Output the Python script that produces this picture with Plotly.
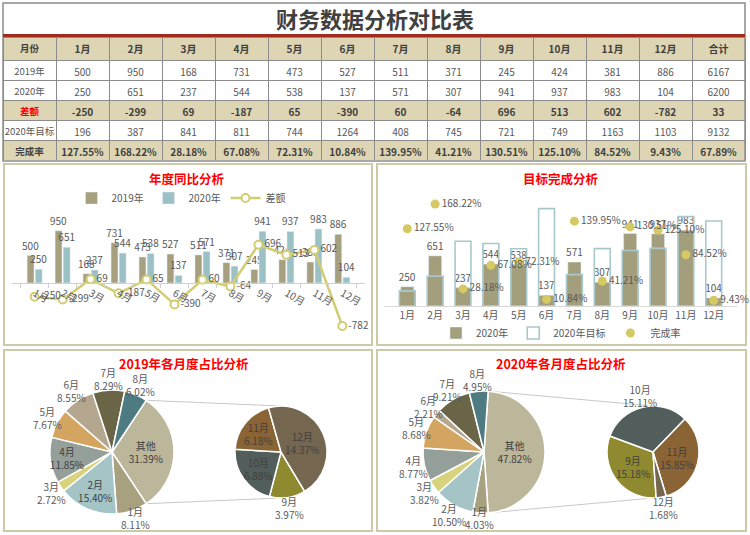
import math
import plotly.graph_objects as go

W, H = 750, 535

# ---------------- data ----------------
months = ['1月', '2月', '3月', '4月', '5月', '6月', '7月', '8月', '9月', '10月', '11月', '12月']
sales_2019 = [500, 950, 168, 731, 473, 527, 511, 371, 245, 424, 381, 886]
sales_2020 = [250, 651, 237, 544, 538, 137, 571, 307, 941, 937, 983, 104]
diff_values = [-250, -299, 69, -187, 65, -390, 60, -64, 696, 513, 602, -782]
target_2020 = [196, 387, 841, 811, 744, 1264, 408, 745, 721, 749, 1163, 1103]
rate_2020 = [127.55, 168.22, 28.18, 67.08, 72.31, 10.84, 139.95, 41.21, 130.51, 125.10, 84.52, 9.43]
total_2019 = 6167
total_2020 = 6200
total_diff = 33
total_target = 9132
total_rate = 67.89
row_names = ['2019年', '2020年', '差额', '2020年目标', '完成率']

# ---------------- style ----------------
FONT = 'Noto Sans CJK SC'
GREY = '#595959'
DARK = '#404040'
TAN = '#DDD5B3'
PANEL = '#CEC9A7'
C2019 = '#A6A07E'
C2020 = '#9CC1C5'
CLINE = '#D2CD72'
CBAR = '#A39E7C'
CTGT = '#A9C8CC'
CDOT = '#D4C962'
SLICE_COLORS = {'其他': '#BCB79B', '1月': '#A7A17F', '2月': '#A4C4C6', '3月': '#D7D27C',
                '4月': '#959F99', '5月': '#D4A561', '6月': '#B5A690', '7月': '#6B6548',
                '8月': '#4E7B81', '9月': '#8F8A2F', '10月': '#525E5B', '11月': '#8A6434',
                '12月': '#75664F'}


def fx(px):
    return px / W


def fy(py):
    return 1 - py / H


fig = go.Figure()
annotations = []

# ---------------- table (three stacked go.Table blocks so bold rows keep a 20px height) ----------------
header_vals = ['月份'] + months + ['合计']
row_2019 = [row_names[0]] + [str(v) for v in sales_2019] + [str(total_2019)]
row_2020 = [row_names[1]] + [str(v) for v in sales_2020] + [str(total_2020)]
row_diff = [row_names[2]] + [str(v) for v in diff_values] + [str(total_diff)]
row_tgt = [row_names[3]] + [str(v) for v in target_2020] + [str(total_target)]
row_rate = [row_names[4]] + [f'{v:.2f}%' for v in rate_2020] + [f'{total_rate:.2f}%']

LINE = dict(color='#8C8C8C', width=1)
col_sizes = [9.5] + [10] * 13


def add_table(y_top, y_bot, head_vals, head_h, head_colors, body_rows):
    body_cols = [list(c) for c in zip(*body_rows)] if body_rows else [[] for _ in head_vals]
    fig.add_trace(go.Table(
        domain=dict(x=[fx(3), fx(745)], y=[fy(y_bot), fy(y_top)]),
        columnwidth=[1] * 14,
        header=dict(values=head_vals, height=head_h, fill_color=TAN, line=LINE, align='center',
                    font=dict(family=FONT, size=col_sizes, color=head_colors, weight='bold')),
        cells=dict(values=body_cols, height=20, fill_color='white', line=LINE, align='center',
                   font=dict(family=FONT, size=col_sizes, color=GREY)),
    ))


add_table(37, 100.5, header_vals, 23, DARK, [row_2019, row_2020])
add_table(100, 140.5, row_diff, 20, ['#FF0000'] + [DARK] * 13, [row_tgt])
add_table(140, 160.5, row_rate, 20, DARK, [])

# ---------------- chart 1: 年度同比分析 ----------------
y1_range = [-1000, 1250]
y1_dom = [fy(338), fy(214.25)]
zero1 = y1_dom[0] + (0 - y1_range[0]) / (y1_range[1] - y1_range[0]) * (y1_dom[1] - y1_dom[0])

fig.add_trace(go.Bar(x=months, y=sales_2019, name='2019年', marker_color=C2019,
                     text=sales_2019, textposition='outside', constraintext='none',
                     textfont=dict(size=10, color=GREY), cliponaxis=False,
                     xaxis='x', yaxis='y', legend='legend', hoverinfo='skip'))
fig.add_trace(go.Bar(x=months, y=sales_2020, name='2020年', marker_color=C2020,
                     text=sales_2020, textposition='outside', constraintext='none',
                     textfont=dict(size=10, color=GREY), cliponaxis=False,
                     xaxis='x', yaxis='y', legend='legend', hoverinfo='skip'))
fig.add_trace(go.Scatter(x=months, y=diff_values, name='差额', mode='lines+markers+text',
                         line=dict(color=CLINE, width=2.5),
                         marker=dict(symbol='circle', size=8, color='white',
                                     line=dict(color=CLINE, width=2)),
                         text=diff_values, textposition='middle right',
                         textfont=dict(size=10, color=GREY), cliponaxis=False,
                         xaxis='x', yaxis='y', legend='legend', hoverinfo='skip'))

# ---------------- chart 2: 目标完成分析 ----------------
y2_range = [0, 1400]
px_per_unit = 0.077
px_per_rate = 60.6
y2_top_px = 306 - y2_range[1] * px_per_unit
y2_dom = [fy(306), fy(y2_top_px)]
y3_range = [0, y2_range[1] * px_per_unit / px_per_rate]

fig.add_trace(go.Bar(x=months, y=sales_2020, name='2020年', marker_color=CBAR,
                     width=0.47, offset=-0.235,
                     text=sales_2020, textposition='outside', constraintext='none',
                     textfont=dict(size=10, color=GREY), cliponaxis=False,
                     xaxis='x2', yaxis='y2', legend='legend2', hoverinfo='skip'))
fig.add_trace(go.Bar(x=months, y=[min(a, b) for a, b in zip(sales_2020, target_2020)],
                     marker_color=CBAR, width=0.57, offset=-0.285, showlegend=False,
                     xaxis='x2', yaxis='y2', hoverinfo='skip'))
fig.add_trace(go.Bar(x=months, y=target_2020, name='2020年目标', width=0.57, offset=-0.285,
                     marker=dict(color='rgba(255,255,255,0)', line=dict(color=CTGT, width=1.6)),
                     xaxis='x2', yaxis='y2', legend='legend2', hoverinfo='skip'))
fig.add_trace(go.Scatter(x=months, y=[r / 100 for r in rate_2020], name='完成率',
                         mode='markers+text', marker=dict(size=9, color=CDOT),
                         text=[f'{r:.2f}%' for r in rate_2020], textposition='middle right',
                         textfont=dict(size=10, color=GREY), cliponaxis=False,
                         xaxis='x2', yaxis='y3', legend='legend2', hoverinfo='skip'))


# ---------------- pies ----------------
def pie_trace(labels, vals, total, center, rot, positions):
    cx, cy, r = center
    share_txt = [f'{v / total * 100:.2f}%' for v in vals]
    tp = ['inside' if p == 'inside' else 'none' for p in positions]
    fig.add_trace(go.Pie(
        labels=labels, values=vals, sort=False, direction='clockwise', rotation=rot,
        domain=dict(x=[fx(cx - r), fx(cx + r)], y=[fy(cy + r), fy(cy - r)]),
        marker=dict(colors=[SLICE_COLORS[l] for l in labels], line=dict(color='white', width=1.5)),
        text=share_txt, texttemplate='%{label}<br>%{text}', textposition=tp,
        insidetextorientation='horizontal',
        insidetextfont=dict(size=10, color=DARK),
        showlegend=False, hoverinfo='skip'))
    # outside labels: at the slice mid-angle just beyond the rim, kept inside the panel
    vsum = sum(vals)
    acc = 0
    for lab, v, txt, p in zip(labels, vals, share_txt, positions):
        mid = rot + (acc + v / 2) / vsum * 360
        acc += v
        if p != 'outside':
            continue
        a = math.radians(mid)
        R = r + 11
        px_ = cx + R * math.sin(a)
        py_ = min(cy - R * math.cos(a), 518)
        annotations.append(dict(text=f'{lab}<br>{txt}', x=fx(px_), y=fy(py_), xref='paper', yref='paper',
                                xanchor='center', yanchor='middle', showarrow=False, align='center',
                                font=dict(size=10, color=GREY, family=FONT)))


def pie_pair(values, total, P, S, sec_rot, main_pos, sec_pos):
    other = sum(values[8:])
    share = other / total
    rot = 90 - 180 * share
    pie_trace(['其他'] + months[:8], [other] + values[:8], total, P, rot, main_pos)
    pie_trace(months[8:], values[8:], total, S, sec_rot, sec_pos)
    return rot


P19 = (112, 452, 62)
S19 = (281, 452, 46)
P20 = (484, 452, 61)
S20 = (653, 452, 46)

rot19 = pie_pair(sales_2019, total_2019, P19, S19, 149,
                 ['inside', 'outside', 'inside', 'outside', 'inside', 'outside', 'outside', 'outside', 'outside'],
                 ['outside', 'inside', 'inside', 'inside'])
rot20 = pie_pair(sales_2020, total_2020, P20, S20, 176,
                 ['inside'] + ['outside'] * 8,
                 ['inside', 'outside', 'inside', 'outside'])


def pie_pt(c, ang):
    cx, cy, r = c
    a = math.radians(ang)
    return cx + r * math.sin(a), cy - r * math.cos(a)


shapes = []
for (x0, y0, x1, y1) in [(4, 164, 372, 345), (377, 164, 746, 345), (4, 350, 372, 531), (377, 350, 746, 531)]:
    shapes.append(dict(type='rect', xref='paper', yref='paper', x0=fx(x0), x1=fx(x1), y0=fy(y1), y1=fy(y0),
                       line=dict(color=PANEL, width=2), fillcolor='white', layer='below'))
shapes.append(dict(type='rect', xref='paper', yref='paper', x0=fx(3), x1=fx(745), y0=fy(161), y1=fy(3),
                   line=dict(color='#8C8C8C', width=1.5), layer='above'))
shapes.append(dict(type='line', xref='paper', yref='paper', x0=fx(3), x1=fx(745), y0=fy(35.5), y1=fy(35.5),
                   line=dict(color='#9E2B1E', width=3)))
for P, S, rot in [(P19, S19, rot19), (P20, S20, rot20)]:
    a = pie_pt(P, rot)
    b = pie_pt(P, 180 - rot)
    t = (S[0], S[1] - S[2])
    btm = (S[0], S[1] + S[2])
    for p, q in [(a, t), (b, btm)]:
        shapes.append(dict(type='line', xref='paper', yref='paper', x0=fx(p[0]), y0=fy(p[1]),
                           x1=fx(q[0]), y1=fy(q[1]), line=dict(color='#C8C8C8', width=1), layer='below'))

for txt, x, y, size, col in [
    ('<b>财务数据分析对比表</b>', 375, 18, 22, DARK),
    ('<b>年度同比分析</b>', 187, 178, 12.5, '#FF0000'),
    ('<b>目标完成分析</b>', 561, 178, 12.5, '#FF0000'),
    ('<b>2019年各月度占比分析</b>', 184, 363, 12.5, '#FF0000'),
    ('<b>2020年各月度占比分析</b>', 561, 363, 12.5, '#FF0000'),
]:
    annotations.append(dict(text=txt, x=fx(x), y=fy(y), xref='paper', yref='paper',
                            xanchor='center', yanchor='middle', showarrow=False,
                            font=dict(size=size, color=col, family=FONT)))

fig.update_layout(
    width=W, height=H, margin=dict(l=0, r=0, t=0, b=0, pad=0, autoexpand=False),
    paper_bgcolor='white', plot_bgcolor='rgba(0,0,0,0)',
    font=dict(family=FONT, size=10, color=GREY),
    barmode='group', bargap=0.42, bargroupgap=0.15,
    uniformtext=dict(minsize=10, mode='show'),
    xaxis=dict(domain=[fx(12), fx(365)], anchor='free', position=zero1,
               showline=True, linecolor='#D0D0D0', linewidth=1, ticks='outside', ticklen=4,
               tickcolor='#D0D0D0', tickson='boundaries', showgrid=False,
               tickfont=dict(size=10, color=GREY), fixedrange=True),
    yaxis=dict(domain=y1_dom, range=y1_range, visible=False, fixedrange=True),
    xaxis2=dict(domain=[fx(384), fx(737)], anchor='y2', showline=True, linecolor='#D9D9D9',
                ticks='', showgrid=False, tickfont=dict(size=10, color=GREY), fixedrange=True),
    yaxis2=dict(domain=y2_dom, range=y2_range, visible=False, anchor='x2', fixedrange=True),
    yaxis3=dict(range=y3_range, overlaying='y2', anchor='x2', side='right', visible=False),
    legend=dict(orientation='h', x=fx(187), xanchor='center', y=fy(198), yanchor='middle',
                font=dict(size=10, color=GREY), bgcolor='rgba(0,0,0,0)', itemwidth=30,
                traceorder='normal', entrywidth=32, entrywidthmode='pixels'),
    legend2=dict(orientation='h', x=fx(561), xanchor='center', y=fy(333), yanchor='middle',
                 font=dict(size=10, color=GREY), bgcolor='rgba(0,0,0,0)', itemwidth=30,
                 traceorder='normal'),
    shapes=shapes, annotations=annotations,
)

fig.write_html('out.html', config={'displayModeBar': False},
               post_script="document.body.style.margin='0';document.body.style.overflow='hidden';")
